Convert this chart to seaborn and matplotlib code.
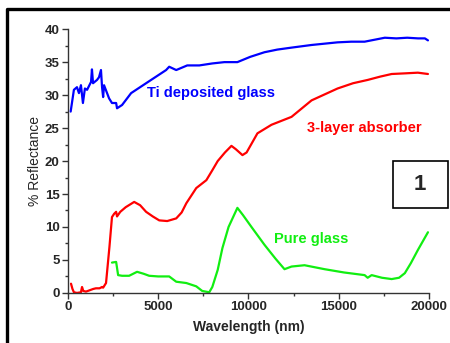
import numpy as np
import matplotlib
matplotlib.use('Agg')
import matplotlib.pyplot as plt
from matplotlib.lines import Line2D
from matplotlib.patches import Rectangle
from matplotlib.ticker import MultipleLocator
import seaborn as sns

# Ti deposited glass (blue)
ti_x = [150, 330, 500, 610, 720, 830, 940, 1060, 1280, 1330, 1390, 1610, 1720, 1830,
        1890, 1950, 2000, 2280, 2440, 2670, 2720, 3000, 3500, 4330, 5440, 5610, 6000,
        6610, 7280, 8000, 8670, 9390, 10100, 10890, 11600, 12390, 13500, 14940, 15700,
        16440, 17000, 17560, 18200, 18800, 19400, 19780, 19950]
ti_y = [27.5, 30.8, 31.2, 30.3, 31.5, 28.8, 31.0, 30.8, 32.0, 33.9, 31.8, 32.3, 32.7, 33.8,
        31.2, 29.7, 31.5, 29.5, 28.8, 28.8, 28.0, 28.5, 30.3, 31.8, 33.8, 34.3, 33.8,
        34.5, 34.5, 34.8, 35.0, 35.0, 35.8, 36.5, 36.9, 37.2, 37.6, 38.0, 38.1,
        38.1, 38.4, 38.7, 38.6, 38.7, 38.6, 38.6, 38.3]

# 3-layer absorber (red)
ab_x = [170, 250, 330, 500, 720, 780, 850, 1000, 1200, 1400, 1550, 1750, 1890, 1950,
        2110, 2300, 2440, 2560, 2670, 2720, 2900, 3200, 3670, 4000, 4330, 4700, 5060,
        5500, 6000, 6300, 6560, 7110, 7670, 8000, 8300, 8700, 9060, 9300, 9670, 9900,
        10500, 11280, 12390, 13500, 14940, 15800, 16610, 17300, 17940, 18700, 19390, 19950]
ab_y = [1.4, 0.6, 0.1, 0.0, 0.1, 0.9, 0.3, 0.2, 0.4, 0.6, 0.7, 0.7, 0.9, 0.8,
        1.5, 7.0, 11.5, 12.0, 12.3, 11.6, 12.3, 13.0, 13.8, 13.3, 12.3, 11.6, 11.0,
        10.9, 11.3, 12.2, 13.6, 15.9, 17.1, 18.6, 20.0, 21.3, 22.3, 21.8, 20.9, 21.3,
        24.2, 25.5, 26.7, 29.2, 31.0, 31.8, 32.3, 32.8, 33.2, 33.3, 33.4, 33.2]

# Pure glass (green)
pg_x = [2440, 2670, 2780, 3000, 3390, 3830, 4200, 4500, 5000, 5610, 6000, 6560, 7110,
        7440, 7830, 8000, 8300, 8560, 8900, 9390, 9700, 10170, 10890, 11500, 12000,
        12390, 13110, 14220, 15300, 16440, 16610, 16830, 17400, 17940, 18350, 18670,
        19000, 19390, 19950]
pg_y = [4.6, 4.7, 2.7, 2.6, 2.6, 3.2, 2.9, 2.6, 2.5, 2.5, 1.7, 1.5, 1.0,
        0.3, 0.1, 0.9, 3.5, 6.8, 10.0, 12.9, 11.8, 10.0, 7.3, 5.2, 3.6,
        4.0, 4.2, 3.6, 3.1, 2.7, 2.3, 2.7, 2.3, 2.1, 2.3, 3.0,
        4.5, 6.5, 9.2]

sns.set_style('ticks')
plt.rcParams['font.family'] = ['Liberation Sans', 'DejaVu Sans']

fig = plt.figure(figsize=(4.5, 3.43), dpi=100)
ax = fig.add_axes([0.151, 0.146, 0.802, 0.769])

for xs, ys, c in [(ti_x, ti_y, '#0000ff'), (ab_x, ab_y, '#ff0000'), (pg_x, pg_y, '#11ee11')]:
    sns.lineplot(x=xs, y=ys, color=c, linewidth=1.6, sort=False, estimator=None,
                 ax=ax, clip_on=False)

ax.set_xlim(0, 20000)
ax.set_ylim(0, 40)
ax.xaxis.set_major_locator(MultipleLocator(5000))
ax.xaxis.set_minor_locator(MultipleLocator(2500))
ax.yaxis.set_major_locator(MultipleLocator(5))
ax.yaxis.set_minor_locator(MultipleLocator(2.5))
sns.despine(ax=ax)
for s in ['left', 'bottom']:
    ax.spines[s].set_linewidth(1.0)
    ax.spines[s].set_color('#333333')
ax.tick_params(which='major', length=4, width=1, color='#333333', labelsize=9.5, pad=2)
ax.tick_params(which='minor', length=2.5, width=1, color='#333333')
for lab in ax.get_xticklabels() + ax.get_yticklabels():
    lab.set_fontweight('bold')

ax.set_xlabel('Wavelength (nm)', fontsize=10, fontweight='bold', labelpad=5)
ax.set_ylabel('% Reflectance', fontsize=10, labelpad=2)

ax.text(4390, 30.3, 'Ti deposited glass', color='#0000ff', fontsize=10.5,
        fontweight='bold', va='center', ha='left')
ax.text(13220, 25.0, '3-layer absorber', color='#ff0000', fontsize=10.5,
        fontweight='bold', va='center', ha='left')
ax.text(11440, 8.2, 'Pure glass', color='#11ee11', fontsize=10.5,
        fontweight='bold', va='center', ha='left')

# numbered panel box
fig.patches.append(Rectangle((0.873, 0.394), 0.122, 0.137, transform=fig.transFigure,
                             facecolor='white', edgecolor='black', linewidth=1.2))
fig.text(0.934, 0.462, '1', fontsize=16, fontweight='bold', ha='center', va='center')

# outer frame (top and left edges)
fx = 7 / 450
fy = 1 - 9 / 343
fig.lines.append(Line2D([fx, fx, 1.0], [0.0, fy, fy], transform=fig.transFigure,
                        color='black', linewidth=2.4))

fig.savefig('out.png', dpi=100)
